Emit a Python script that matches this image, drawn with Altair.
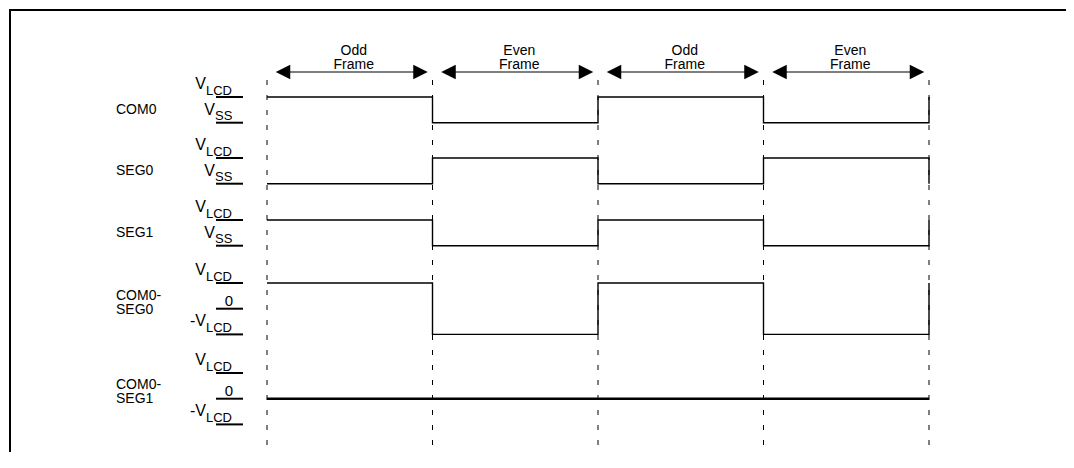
import altair as alt
import pandas as pd

# ---------------- data ----------------
signal_names = ["COM0", "SEG0", "SEG1", "COM0-\nSEG0", "COM0-\nSEG1"]
frame_names = ["Odd\nFrame", "Even\nFrame", "Odd\nFrame", "Even\nFrame"]
frame_index = [0, 1, 2, 3]
com0 = [1, 0, 1, 0]
seg0 = [0, 1, 0, 1]
seg1 = [1, 0, 1, 0]
com0_seg0 = [1, -1, 1, -1]
com0_seg1 = [0, 0, 0, 0]
waveforms = [com0, seg0, seg1, com0_seg0, com0_seg1]
next_level = [1, 0, 1, 1, 0]          # level at the start of the following frame
two_level_values = [1, 0]
two_level_main = ["V", "V"]
two_level_sub = ["LCD", "SS"]
three_level_values = [1, 0, -1]
three_level_main = ["V", "0", "-V"]
three_level_sub = ["LCD", "", "LCD"]

# ---------------- layout ----------------
W, H = 1058, 444
M = 8
PITCH = 165.5
T0 = 267
ROW_TOP = [97, 158, 220, 283, 373]
STEP = 25.7
FONT = "Liberation Sans"


def tx(px):
    return (px - T0) / PITCH


def sy(py):
    return py - M


def level_y(row, lv):
    return sy(ROW_TOP[row] + (1 - lv) * STEP)


xs = alt.Scale(domain=[tx(M), tx(M + W)], nice=False, zero=False)
ys = alt.Scale(domain=[0, H], reverse=True, nice=False, zero=False)
X = lambda f: alt.X(f, type="quantitative", scale=xs, axis=None)
Y = lambda f: alt.Y(f, type="quantitative", scale=ys, axis=None)

# waveforms
wrows = []
for r, levels in enumerate(waveforms):
    k = 0
    for i, lv in enumerate(levels):
        for t in (i, i + 1):
            wrows.append(dict(sig=r, o=k, t=t, y=level_y(r, lv)))
            k += 1
    wrows.append(dict(sig=r, o=k, t=len(levels), y=level_y(r, next_level[r])))
wdf = pd.DataFrame(wrows)

thin = alt.Chart(wdf[wdf.sig < 4]).mark_line(color="black", strokeWidth=1.4).encode(
    x=X("t"), y=Y("y"), detail="sig:N", order="o:Q")
thick = alt.Chart(wdf[wdf.sig == 4]).mark_line(color="black", strokeWidth=2.4).encode(
    x=X("t"), y=Y("y"), detail="sig:N", order="o:Q")

# dashed frame boundaries
bdf = pd.DataFrame({"t": [0, 1, 2, 3, 4], "y1": sy(80), "y2": sy(446)})
bounds = alt.Chart(bdf).mark_rule(color="black", strokeWidth=1, strokeDash=[5, 10]).encode(
    x=X("t"), y=Y("y1"), y2="y2")

# arrows
adf = pd.DataFrame({
    "i": frame_index,
    "ts": [i + tx(T0 + 9) for i in frame_index],
    "te": [i + 1 + tx(T0 - 5) for i in frame_index],
    "y": sy(72),
})
adf["hl"] = adf.ts + 7 / PITCH
adf["hr"] = adf.te - 7 / PITCH
arrow_line = alt.Chart(adf).mark_rule(color="black", strokeWidth=1.2).encode(
    x=X("hl"), x2="hr", y=Y("y"))
head_l = alt.Chart(adf).mark_point(shape="M1,-1L-1,0L1,1Z", filled=True, size=210,
                                   color="black", opacity=1).encode(x=X("hl"), y=Y("y"))
head_r = alt.Chart(adf).mark_point(shape="M-1,-1L1,0L-1,1Z", filled=True, size=210,
                                   color="black", opacity=1).encode(x=X("hr"), y=Y("y"))

# frame labels
fdf = pd.DataFrame({"label": frame_names,
                    "t": [i + 0.5 + 4 / PITCH for i in frame_index],
                    "y": sy(44)})
flabels = alt.Chart(fdf).mark_text(font=FONT, fontSize=14, lineBreak="\n", lineHeight=14,
                                   align="center", baseline="top", color="black").encode(
    x=X("t"), y=Y("y"), text="label:N")

# signal names
ndf = pd.DataFrame({
    "label": signal_names,
    "t": tx(116),
    "y": [level_y(0, 0.5), level_y(1, 0.5), level_y(2, 0.5),
          level_y(3, 0) - 13, level_y(4, 0) - 14],
})
names = alt.Chart(ndf).mark_text(font=FONT, fontSize=14, lineBreak="\n", lineHeight=14,
                                  align="left", baseline="middle", color="black").encode(
    x=X("t"), y=Y("y"), text="label:N")

# level labels
lrows = []
for r in range(5):
    if r < 3:
        vals, mains, subs = two_level_values, two_level_main, two_level_sub
    else:
        vals, mains, subs = three_level_values, three_level_main, three_level_sub
    for v, m, s in zip(vals, mains, subs):
        yy = level_y(r, v)
        split = 206 if s == "LCD" else 215
        if m == "0":
            lrows.append(dict(kind="zero", text=m, t=tx(229), y=yy - 3))
        else:
            lrows.append(dict(kind="main", text=m, t=tx(split), y=yy - 8))
            lrows.append(dict(kind="sub", text=s, t=tx(split), y=yy - 2.5))
        lrows.append(dict(kind="line", text="", t=tx(216), t2=tx(243), y=yy))
ldf = pd.DataFrame(lrows)

lab_main = alt.Chart(ldf[ldf.kind == "main"]).mark_text(
    font=FONT, fontSize=16, align="right", baseline="alphabetic", color="black").encode(
    x=X("t"), y=Y("y"), text="text:N")
lab_sub = alt.Chart(ldf[ldf.kind == "sub"]).mark_text(
    font=FONT, fontSize=13, align="left", baseline="alphabetic", color="black").encode(
    x=X("t"), y=Y("y"), text="text:N")
lab_zero = alt.Chart(ldf[ldf.kind == "zero"]).mark_text(
    font=FONT, fontSize=15, align="center", baseline="alphabetic", color="black").encode(
    x=X("t"), y=Y("y"), text="text:N")
lab_line = alt.Chart(ldf[ldf.kind == "line"]).mark_rule(color="black", strokeWidth=2).encode(
    x=X("t"), x2="t2", y=Y("y"))

# border of the figure box (top and left edges only)
edf = pd.DataFrame({
    "x1": [tx(10), tx(10)],
    "x2": [tx(M + W), tx(10)],
    "y1": [sy(10), sy(9)],
    "y2": [sy(10), sy(M + H)],
})
border = alt.Chart(edf).mark_rule(color="black", strokeWidth=2).encode(
    x=X("x1"), x2="x2", y=Y("y1"), y2="y2")

# white masks over any stray view outline on the right and bottom edges
mask_right = alt.Chart(pd.DataFrame({"a": [0]})).mark_rule(color="white", strokeWidth=4).encode(
    x=alt.value(W - 1), y=alt.value(3), y2=alt.value(H))
mask_bottom = alt.Chart(pd.DataFrame({"a": [0]})).mark_rule(color="white", strokeWidth=4).encode(
    x=alt.value(4), x2=alt.value(W), y=alt.value(H - 1))

chart = alt.layer(
    border, bounds, thin, thick, arrow_line, head_l, head_r,
    flabels, names, lab_main, lab_sub, lab_zero, lab_line, mask_right, mask_bottom,
).properties(
    width=W, height=H, padding=0, autosize=alt.AutoSizeParams(type="none"),
    background="white",
    view=alt.ViewBackground(strokeWidth=0, strokeOpacity=0, stroke="transparent"),
).configure_view(strokeWidth=0, strokeOpacity=0, stroke="transparent")

chart.save("out.html", embed_options={"renderer": "svg", "actions": False})
